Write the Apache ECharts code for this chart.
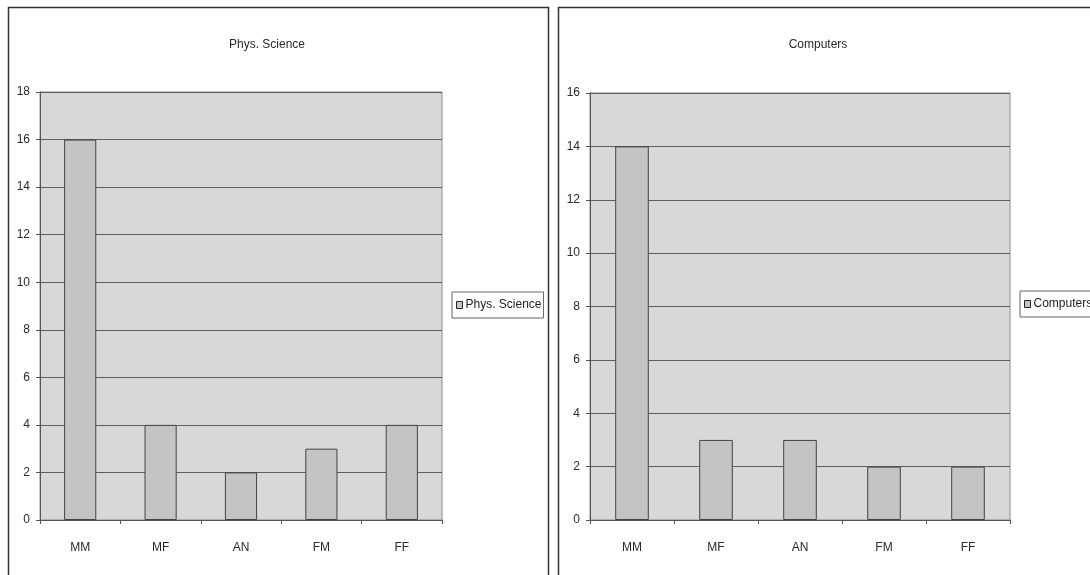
<!DOCTYPE html>
<html>
<head>
<meta charset="utf-8">
<script src="https://cdn.jsdelivr.net/npm/echarts@6/dist/echarts.min.js"></script>
<style>
  html, body { margin: 0; padding: 0; background: #ffffff; }
  #chart { width: 1090px; height: 575px; }
</style>
</head>
<body>
<div id="chart"></div>
<script>
// Categories shared by both panels
const categories = ['MM', 'MF', 'AN', 'FM', 'FF'];
// Counts per category
const physScience = [16, 4, 2, 3, 4];
const computers = [14, 3, 3, 2, 2];
// Value-axis ranges
const physMax = 18;
const compMax = 16;

const FONT = "'Liberation Sans Narrow', 'Arial Narrow', 'Liberation Sans', sans-serif";
const TEXT = '#2a2a2a';

function catAxis(gridIndex) {
  return {
    type: 'category',
    gridIndex: gridIndex,
    data: categories,
    boundaryGap: true,
    axisLine: { lineStyle: { color: '#555', width: 1 } },
    axisTick: { show: true, length: 4, lineStyle: { color: '#555' } },
    axisLabel: { color: TEXT, fontFamily: FONT, fontSize: 12, margin: 22 }
  };
}

function valAxis(gridIndex, max) {
  return {
    type: 'value',
    gridIndex: gridIndex,
    min: 0,
    max: max,
    interval: 2,
    axisLine: { show: true, lineStyle: { color: '#555', width: 1 } },
    axisTick: { show: true, length: 4, lineStyle: { color: '#555' } },
    axisLabel: { color: TEXT, fontFamily: FONT, fontSize: 12, margin: 10 },
    splitLine: { show: true, lineStyle: { color: '#5e5e5e', width: 1 } }
  };
}

function barSeries(name, data, idx) {
  return {
    name: name,
    type: 'bar',
    xAxisIndex: idx,
    yAxisIndex: idx,
    data: data,
    barWidth: '40%',
    itemStyle: { color: '#c4c4c4', borderColor: '#444', borderWidth: 1 },
    emphasis: { disabled: true }
  };
}

function legendBox(name, left, top) {
  return {
    data: [name],
    left: left,
    top: top,
    orient: 'vertical',
    icon: 'rect',
    itemWidth: 6,
    itemHeight: 7,
    itemGap: 0,
    padding: [7, 2, 7, 4],
    borderColor: '#666',
    borderWidth: 1,
    textStyle: { color: '#222', fontFamily: FONT, fontSize: 12, padding: [0, 0, 0, -2] },
    itemStyle: { color: '#c4c4c4', borderColor: '#222', borderWidth: 1 },
    selectedMode: false
  };
}

const chart = echarts.init(document.getElementById('chart'), null, { renderer: 'canvas' });

chart.setOption({
  animation: false,
  backgroundColor: '#ffffff',
  title: [
    { text: 'Phys. Science', left: 262, top: 34, textAlign: 'center',
      textStyle: { color: TEXT, fontFamily: FONT, fontSize: 12, fontWeight: 'normal' } },
    { text: 'Computers', left: 813, top: 34, textAlign: 'center',
      textStyle: { color: TEXT, fontFamily: FONT, fontSize: 12, fontWeight: 'normal' } }
  ],
  legend: [
    legendBox('Phys. Science', 452, 292),
    legendBox('Computers', 1020, 291)
  ],
  grid: [
    { left: 40, top: 92, width: 402, height: 428, show: true,
      backgroundColor: '#d8d8d8', borderColor: '#8a8a8a', borderWidth: 1 },
    { left: 590, top: 93, width: 420, height: 427, show: true,
      backgroundColor: '#d8d8d8', borderColor: '#8a8a8a', borderWidth: 1 }
  ],
  xAxis: [catAxis(0), catAxis(1)],
  yAxis: [valAxis(0, physMax), valAxis(1, compMax)],
  series: [
    barSeries('Phys. Science', physScience, 0),
    barSeries('Computers', computers, 1)
  ],
  graphic: [
    // panel frames
    { type: 'rect', shape: { x: 8.5, y: 7.5, width: 540, height: 600 },
      style: { fill: null, stroke: '#333', lineWidth: 1.5 }, silent: true, z: -1 },
    { type: 'rect', shape: { x: 558.5, y: 7.5, width: 600, height: 600 },
      style: { fill: null, stroke: '#333', lineWidth: 1.5 }, silent: true, z: -1 }
  ]
});
</script>
</body>
</html>
